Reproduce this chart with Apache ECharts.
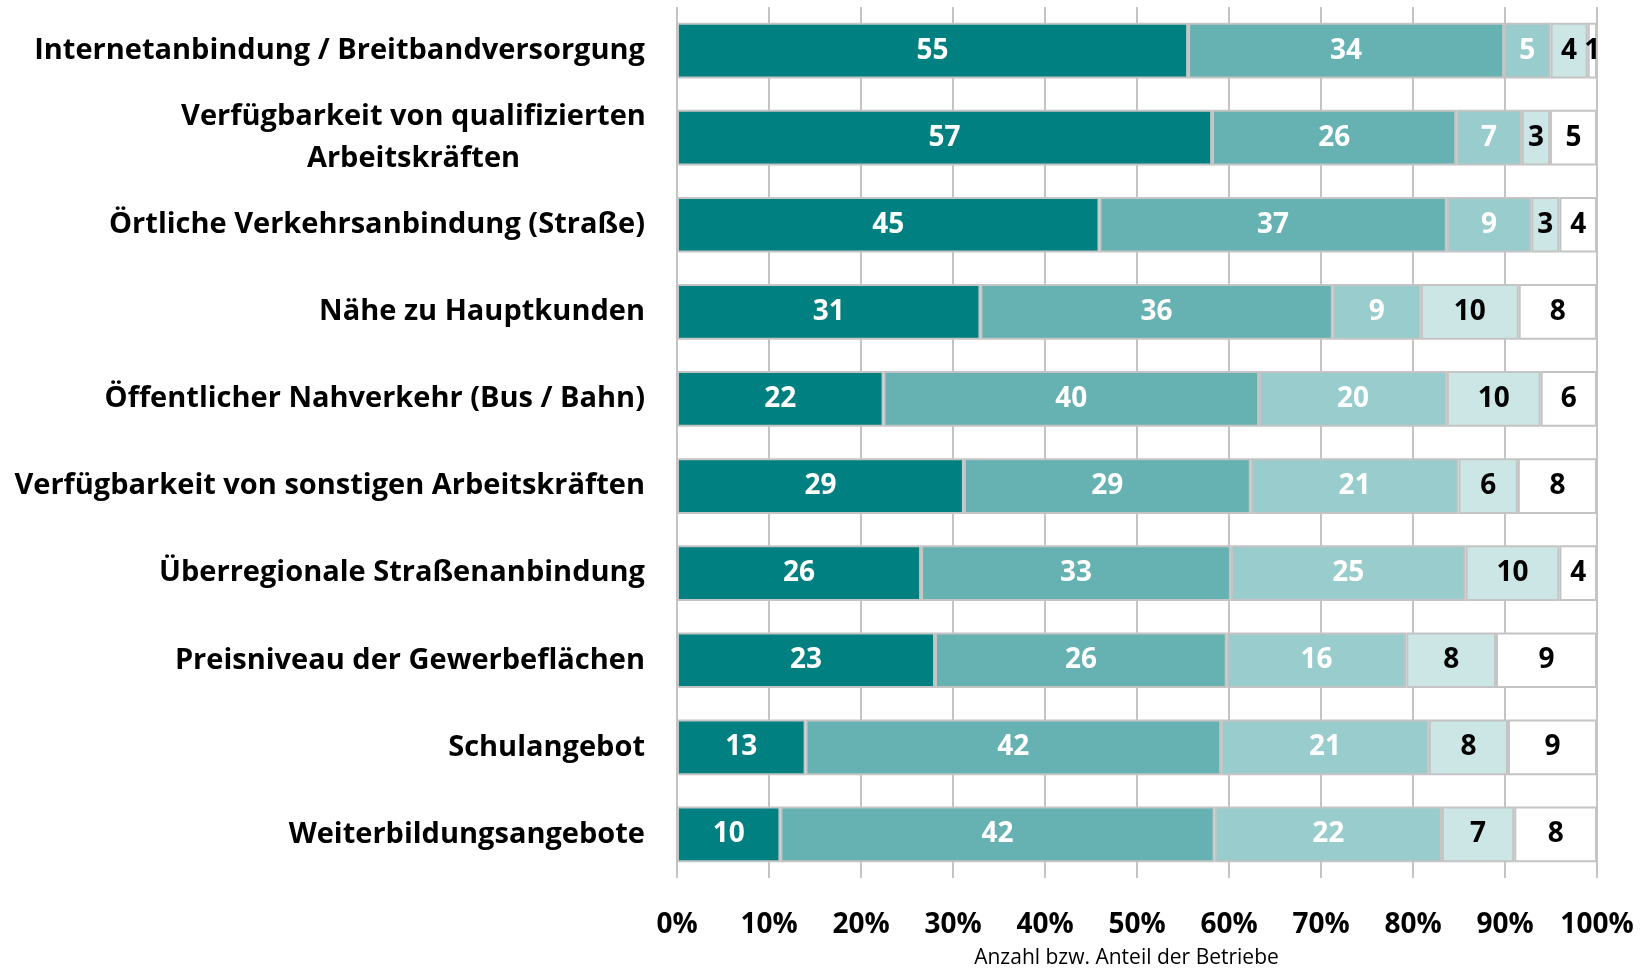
<!DOCTYPE html>
<html>
<head>
<meta charset="utf-8">
<style>
  html, body { margin: 0; padding: 0; background: #fff; }
  #chart { width: 1644px; height: 969px; }
</style>
<script src="https://cdn.jsdelivr.net/npm/echarts@6/dist/echarts.min.js"></script>
</head>
<body>
<div id="chart"></div>
<script>
// categories, top to bottom
const categories = [
  'Internetanbindung / Breitbandversorgung',
  'Verfügbarkeit von qualifizierten\nArbeitskräften',
  'Örtliche Verkehrsanbindung (Straße)',
  'Nähe zu Hauptkunden',
  'Öffentlicher Nahverkehr (Bus / Bahn)',
  'Verfügbarkeit von sonstigen Arbeitskräften',
  'Überregionale Straßenanbindung',
  'Preisniveau der Gewerbeflächen',
  'Schulangebot',
  'Weiterbildungsangebote'
]

// counts per rating level (Anzahl der Betriebe)
const level1 = [55, 57, 45, 31, 22, 29, 26, 23, 13, 10]
const level2 = [34, 26, 37, 36, 40, 29, 33, 26, 42, 42]
const level3 = [5, 7, 9, 9, 20, 21, 25, 16, 21, 22]
const level4 = [4, 3, 3, 10, 10, 6, 10, 8, 8, 7]
const level5 = [1, 5, 4, 8, 6, 8, 4, 9, 9, 8]

const xTicks = [0, 10, 20, 30, 40, 50, 60, 70, 80, 90, 100]

const levels = [level1, level2, level3, level4, level5]
const colors = ['#008080', '#66b2b2', '#99cccc', '#cce5e5', '#ffffff']
const labelColors = ['#fff', '#fff', '#fff', '#000', '#000']
const fontFamily = '"Open Sans", Lato, sans-serif'

// bar length = share of the row total
const totals = categories.map((c, i) => levels.reduce((s, l) => s + l[i], 0))

const series = levels.map((lvl, k) => ({
  name: 'Stufe ' + (k + 1),
  type: 'bar',
  stack: 'total',
  barWidth: '64%',
  data: lvl.map((v, i) => ({ value: v / totals[i] * 100, count: v })),
  itemStyle: {
    color: colors[k],
    borderColor: '#c4c4c4',
    borderWidth: 2
  },
  label: {
    show: true,
    position: 'inside',
    color: labelColors[k],
    fontFamily: fontFamily,
    fontWeight: 'bold',
    fontSize: 28,
    padding: [4, 0, 0, 0],
    formatter: p => p.data.count
  },
  animation: false
}))

const chart = echarts.init(document.getElementById('chart'))
chart.setOption({
  backgroundColor: '#fff',
  grid: {
    left: 677,
    right: 47,
    top: 7,
    bottom: 91,
    outerBoundsMode: 'none'
  },
  xAxis: {
    type: 'value',
    min: xTicks[0],
    max: xTicks[xTicks.length - 1],
    interval: 10,
    name: 'Anzahl bzw. Anteil der Betriebe',
    nameLocation: 'middle',
    nameGap: 70,
    nameTextStyle: { fontFamily: fontFamily, fontSize: 21, color: '#000', padding: [0, 21, 0, 0] },
    axisLine: { show: false },
    axisTick: { show: false },
    splitLine: { show: true, lineStyle: { color: '#c4c4c4', width: 2 } },
    axisLabel: {
      margin: 33,
      formatter: '{value}%',
      color: '#000',
      fontFamily: fontFamily,
      fontWeight: 'bold',
      fontSize: 28
    }
  },
  yAxis: {
    type: 'category',
    inverse: true,
    data: categories,
    axisLine: { show: false },
    axisTick: { show: false },
    axisLabel: {
      margin: 32,
      color: '#000',
      fontFamily: fontFamily,
      fontWeight: 'bold',
      fontSize: 29,
      lineHeight: 42,
      formatter: v => v.indexOf('\n') < 0 ? v : v.split('\n').map(s => '{c|' + s + '}').join('\n'),
      rich: {
        c: {
          width: 463,
          align: 'center',
          color: '#000',
          fontFamily: fontFamily,
          fontWeight: 'bold',
          fontSize: 29,
          lineHeight: 42
        }
      }
    }
  },
  series: series
})
</script>
</body>
</html>
